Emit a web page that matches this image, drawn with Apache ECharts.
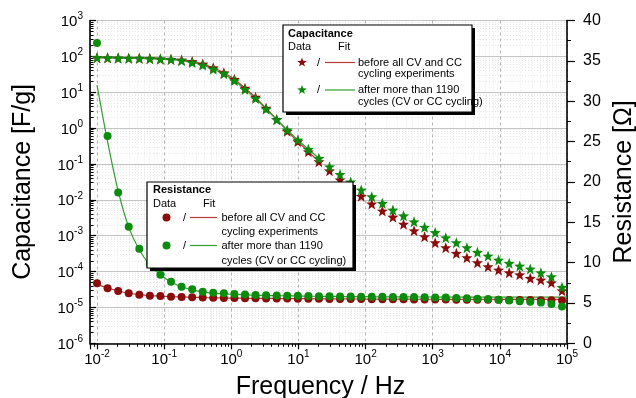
<!DOCTYPE html>
<html><head><meta charset="utf-8">
<script src="https://cdn.jsdelivr.net/npm/echarts@6/dist/echarts.min.js"></script>
<style>html,body{margin:0;padding:0;background:#fff}#c{width:636px;height:398px}</style>
</head><body><div id="c"></div>
<script>
// ---------------- data ----------------
const freq = [0.01, 0.01436, 0.02065, 0.02965, 0.04266, 0.06124, 0.0879, 0.1264, 0.1816, 0.2612,
  0.375, 0.5383, 0.7745, 1.112, 1.6, 2.296, 3.297, 4.742, 6.808, 9.795,
  14.06, 20.18, 29.04, 41.69, 59.98, 86.1, 123.6, 177.8, 255.3, 367.3,
  527.2, 756.8, 1089, 1563, 2249, 3228, 4634, 6668, 9572, 13770,
  19770, 28380, 40830, 58610, 84330];

// Capacitance [F/g] (left, log axis)
const capBefore = [92, 91, 90, 89, 88, 87, 85, 83, 79, 72,
  61, 48, 35, 23, 13, 7.3, 3.6, 1.75, 0.82, 0.42,
  0.22, 0.116, 0.065, 0.036, 0.0224, 0.0126, 0.0077, 0.0049, 0.0033, 0.0021,
  0.00138, 0.00094, 0.00064, 0.000465, 0.000323, 0.000244, 0.000177, 0.000137, 0.000111, 0.0000931,
  0.0000818, 0.000065, 0.0000583, 0.000049, 0.0000293];
const capAfter = [92, 91, 90, 89, 88, 86, 84, 82, 76, 67,
  57, 44, 33, 21, 12, 6.7, 3.4, 1.72, 0.89, 0.467,
  0.256, 0.144, 0.084, 0.0513, 0.0316, 0.0188, 0.01225, 0.008, 0.0052, 0.00358,
  0.00246, 0.00172, 0.00122, 0.00088, 0.00064, 0.000465, 0.000344, 0.000272, 0.00021, 0.00017,
  0.000143, 0.000118, 0.0000931, 0.0000721, 0.0000365];
// capacitance fits (first 22 frequencies)
const capFitBefore = [92, 91, 90, 89, 88, 87, 85, 83, 79, 72,
  61, 48, 35, 23, 13, 7.2, 3.6, 1.75, 0.84, 0.42, 0.22, 0.116];
const capFitAfter = [91, 90.5, 90, 89, 88, 86, 84, 81, 76, 67,
  57, 44, 32, 21, 12, 6.7, 3.4, 1.74, 0.89, 0.467, 0.256, 0.144];

// Resistance [Ω] (right, linear axis)
const resBefore = [7.43, 6.82, 6.48, 6.19, 6.02, 5.9, 5.86, 5.78, 5.74, 5.7,
  5.66, 5.63, 5.61, 5.6, 5.58, 5.57, 5.56, 5.55, 5.54, 5.53,
  5.52, 5.51, 5.5, 5.5, 5.49, 5.48, 5.47, 5.46, 5.45, 5.45,
  5.44, 5.43, 5.42, 5.42, 5.41, 5.41, 5.4, 5.4, 5.39, 5.38,
  5.37, 5.36, 5.35, 5.33, 5.3];
const resAfter = [37.2, 25.7, 18.7, 14.45, 11.72, 9.83, 8.5, 7.63, 7.01, 6.69,
  6.39, 6.27, 6.19, 6.11, 6.05, 6.0, 5.96, 5.93, 5.9, 5.88,
  5.86, 5.84, 5.82, 5.8, 5.79, 5.78, 5.77, 5.76, 5.75, 5.74,
  5.73, 5.71, 5.69, 5.66, 5.62, 5.57, 5.52, 5.48, 5.4, 5.3,
  5.22, 5.14, 5.05, 4.88, 4.55];
// resistance fits (all frequencies + 1e5 Hz)
const fitFreq = freq.concat([100000]);
const resFitBefore = [7.3, 6.85, 6.48, 6.2, 6.02, 5.91, 5.85, 5.78, 5.74, 5.7,
  5.66, 5.63, 5.61, 5.6, 5.58, 5.57, 5.56, 5.55, 5.54, 5.53,
  5.52, 5.51, 5.5, 5.5, 5.49, 5.49, 5.48, 5.48, 5.47, 5.47,
  5.46, 5.46, 5.46, 5.45, 5.45, 5.45, 5.45, 5.45, 5.45, 5.45,
  5.45, 5.45, 5.45, 5.45, 5.45, 5.45];
const resFitAfter = [32.0, 25.0, 18.9, 14.4, 11.6, 9.7, 8.5, 7.6, 7.0, 6.62,
  6.38, 6.22, 6.12, 6.05, 6.0, 5.96, 5.93, 5.9, 5.88, 5.86,
  5.84, 5.82, 5.81, 5.8, 5.79, 5.78, 5.77, 5.76, 5.75, 5.75,
  5.74, 5.74, 5.73, 5.73, 5.73, 5.72, 5.72, 5.72, 5.72, 5.72,
  5.72, 5.72, 5.72, 5.72, 5.72, 5.72];

// tick labels
const xTickExponents = [-2, -1, 0, 1, 2, 3, 4, 5];
const yLeftExponents = [-6, -5, -4, -3, -2, -1, 0, 1, 2, 3];
const yRightTicks = [0, 5, 10, 15, 20, 25, 30, 35, 40];

// ---------------- chart ----------------
const F = '"Liberation Sans", Arial, sans-serif';
const RED = '#8b0c0c', GREEN = '#0c8c0c';
const RED_LINE = '#b53a3a', GREEN_LINE = '#2f9e2f';
const xMin = 0.00786, xMax = 100000;
const yMin = 1e-6, yMax = 1000;

function pairs(xs, ys) { return ys.map((v, i) => [xs[i], v]); }
function starPts(cx, cy, R) {
  const p = []; const r = R * 0.42;
  for (let k = 0; k < 10; k++) {
    const a = -Math.PI / 2 + k * Math.PI / 5; const rr = k % 2 === 0 ? R : r;
    p.push([cx + rr * Math.cos(a), cy + rr * Math.sin(a)]);
  }
  return p;
}
const starPath = 'path://' + starPts(12, 12.5, 12).map((q, k) => (k ? 'L' : 'M') + q[0].toFixed(2) + ',' + q[1].toFixed(2)).join(' ') + ' Z';

function minorList(lo, hi) {
  const out = [];
  for (let e = -7; e <= 5; e++) for (let m = 2; m <= 9; m++) {
    const v = m * Math.pow(10, e);
    if (v > lo && v < hi) out.push(v);
  }
  return out;
}
function powLabel(list) {
  return function (v) {
    const e = Math.round(Math.log10(v));
    if (Math.abs(Math.log10(v) - e) > 1e-6 || list.indexOf(e) < 0) return '';
    return '{b|10}{s|' + e + '}';
  };
}
const rich = {
  b: { fontSize: 15, fontFamily: F, color: '#000', verticalAlign: 'bottom', lineHeight: 18 },
  s: { fontSize: 10, fontFamily: F, color: '#000', verticalAlign: 'top', lineHeight: 18 }
};
const grid = { left: 90, right: 69, top: 20.5, bottom: 54.7, containLabel: false, outerBoundsMode: 'none' };

const chart = echarts.init(document.getElementById('c'), null, { renderer: 'canvas' });

const T = (x, y, text, extra) => Object.assign({ type: 'text', x: x, y: y, z: 100,
  style: { text: text, font: '11px ' + F, fill: '#000', verticalAlign: 'middle', textVerticalAlign: 'middle' } }, extra || {});
const Tb = (x, y, text) => ({ type: 'text', x: x, y: y, z: 100,
  style: { text: text, font: 'bold 11px ' + F, fill: '#000', verticalAlign: 'middle', textVerticalAlign: 'middle' } });
const L = (x1, x2, y, c) => ({ type: 'line', z: 100, shape: { x1: x1, y1: y, x2: x2, y2: y }, style: { stroke: c, lineWidth: 1.2 } });
const box = (x, y, w, h) => [
  { type: 'rect', z: 99, shape: { x: x + 3, y: y + 3, width: w, height: h }, style: { fill: '#000' } },
  { type: 'rect', z: 99, shape: { x: x, y: y, width: w, height: h }, style: { fill: '#fff', stroke: '#000', lineWidth: 1.2 } }
];
const star = (cx, cy, c) => ({ type: 'polygon', z: 100, shape: { points: starPts(cx, cy, 5) }, style: { fill: c } });
const dot = (cx, cy, c) => ({ type: 'circle', z: 100, shape: { cx: cx, cy: cy, r: 4 }, style: { fill: c } });

const graphics = [].concat(
  box(283, 25, 189, 87),
  [Tb(288, 33.5, 'Capacitance'), T(288, 47, 'Data'), T(338, 47, 'Fit'),
   star(302, 62.5, RED), T(317, 62.5, '/'), L(325, 355, 62.5, RED_LINE), T(358, 62.5, 'before all CV and CC'), T(358, 74, 'cycling experiments'),
   star(302, 90, GREEN), T(317, 90, '/'), L(325, 355, 90, GREEN_LINE), T(358, 90, 'after more than 1190'), T(358, 101.5, 'cycles (CV or CC cycling)')],
  box(147, 182, 206, 86),
  [Tb(153, 189.5, 'Resistance'), T(153, 203.5, 'Data'), T(203, 203.5, 'Fit'),
   dot(166.5, 217.5, RED), T(183, 217.5, '/'), L(190, 217, 217.5, RED_LINE), T(221.5, 217.5, 'before all CV and CC'), T(221.5, 232, 'cycling experiments'),
   dot(166.5, 245.5, GREEN), T(183, 245.5, '/'), L(190, 217, 245.5, GREEN_LINE), T(221.5, 245.5, 'after more than 1190'), T(221.5, 260.5, 'cycles (CV or CC cycling)')]
);

const axisLineStyle = { color: '#000', width: 1.6 };

const option = {
  animation: false,
  backgroundColor: '#fff',
  grid: [grid, Object.assign({}, grid)],
  xAxis: [
    { type: 'log', gridIndex: 0, min: xMin, max: xMax, position: 'bottom',
      name: 'Frequency / Hz', nameLocation: 'middle', nameGap: 31,
      nameTextStyle: { fontSize: 25, fontFamily: F, color: '#000', padding: [0, 16, 0, 0] },
      axisLine: { show: true, lineStyle: axisLineStyle },
      axisTick: { show: true, inside: false, length: 6, lineStyle: { color: '#000', width: 1.2 } },
      axisLabel: { show: true, margin: 6, formatter: powLabel(xTickExponents), rich: rich, showMinLabel: true },
      splitLine: { show: true, lineStyle: { color: '#b4b4b4', type: [3, 3], width: 1 } },
      minorTick: { show: false }, minorSplitLine: { show: false }
    },
    { type: 'log', gridIndex: 1, min: xMin, max: xMax, position: 'bottom', z: -1,
      axisLine: { show: false },
      axisTick: { show: true, inside: false, length: 3.5, customValues: minorList(xMin, xMax), lineStyle: { color: '#000', width: 1 } },
      axisLabel: { show: false },
      splitLine: { show: true, lineStyle: { color: '#e6e6e6', type: [1, 2], width: 1 } }
    }
  ],
  yAxis: [
    { type: 'log', gridIndex: 0, min: yMin, max: yMax, position: 'left',
      name: 'Capacitance [F/g]', nameLocation: 'middle', nameGap: 54, nameRotate: 90,
      nameTextStyle: { fontSize: 25, fontFamily: F, color: '#000' },
      axisLine: { show: true, lineStyle: axisLineStyle },
      axisTick: { show: true, inside: true, length: 6, lineStyle: { color: '#000', width: 1.2 } },
      axisLabel: { show: true, margin: 7, formatter: powLabel(yLeftExponents), rich: rich },
      splitLine: { show: true, lineStyle: { color: '#c4c4c4', type: 'solid', width: 1.2 } }
    },
    { type: 'value', gridIndex: 0, min: 0, max: 40, interval: 5, position: 'right',
      name: 'Resistance [Ω]', nameLocation: 'middle', nameGap: 44, nameRotate: 90,
      nameTextStyle: { fontSize: 25, fontFamily: F, color: '#000' },
      axisLine: { show: true, lineStyle: axisLineStyle },
      axisTick: { show: true, inside: false, length: 8, lineStyle: { color: '#000', width: 1.2 } },
      minorTick: { show: true, splitNumber: 2, length: 4, lineStyle: { color: '#000', width: 1 } },
      axisLabel: { show: true, margin: 16, fontSize: 16, fontFamily: F, color: '#000',
        formatter: v => (yRightTicks.indexOf(v) >= 0 ? String(v) : '') },
      splitLine: { show: false }
    },
    { type: 'log', gridIndex: 1, min: yMin, max: yMax, position: 'left', z: -1,
      axisLine: { show: false },
      axisTick: { show: true, inside: true, length: 3.5, customValues: minorList(yMin, yMax), lineStyle: { color: '#000', width: 1 } },
      axisLabel: { show: false },
      splitLine: { show: true, lineStyle: { color: '#e6e6e6', type: [1, 2], width: 1 } }
    }
  ],
  series: [
    { name: 'R fit before', type: 'line', xAxisIndex: 0, yAxisIndex: 1, data: pairs(fitFreq, resFitBefore),
      showSymbol: false, smooth: 0.3, lineStyle: { color: RED_LINE, width: 1.2 }, z: 2 },
    { name: 'R fit after', type: 'line', xAxisIndex: 0, yAxisIndex: 1, data: pairs(fitFreq, resFitAfter),
      showSymbol: false, smooth: 0.3, lineStyle: { color: GREEN_LINE, width: 1.2 }, z: 2 },
    { name: 'R before', type: 'scatter', xAxisIndex: 0, yAxisIndex: 1, data: pairs(freq, resBefore),
      symbol: 'circle', symbolSize: 8, itemStyle: { color: RED, opacity: 1 }, z: 3 },
    { name: 'R after', type: 'scatter', xAxisIndex: 0, yAxisIndex: 1, data: pairs(freq, resAfter),
      symbol: 'circle', symbolSize: 8, itemStyle: { color: GREEN, opacity: 1 }, z: 3 },
    { name: 'C fit before', type: 'line', xAxisIndex: 0, yAxisIndex: 0, data: pairs(freq, capFitBefore),
      showSymbol: false, smooth: 0.3, lineStyle: { color: RED_LINE, width: 1.2 }, z: 4 },
    { name: 'C fit after', type: 'line', xAxisIndex: 0, yAxisIndex: 0, data: pairs(freq, capFitAfter),
      showSymbol: false, smooth: 0.3, lineStyle: { color: GREEN_LINE, width: 1.2 }, z: 4 },
    { name: 'C before', type: 'scatter', xAxisIndex: 0, yAxisIndex: 0, data: pairs(freq, capBefore),
      symbol: starPath, symbolSize: 11, itemStyle: { color: RED, opacity: 1 }, z: 5 },
    { name: 'C after', type: 'scatter', xAxisIndex: 0, yAxisIndex: 0, data: pairs(freq, capAfter),
      symbol: starPath, symbolSize: 11, itemStyle: { color: GREEN, opacity: 1 }, z: 5 }
  ],
  graphic: graphics
};
chart.setOption(option);
</script>
</body></html>
